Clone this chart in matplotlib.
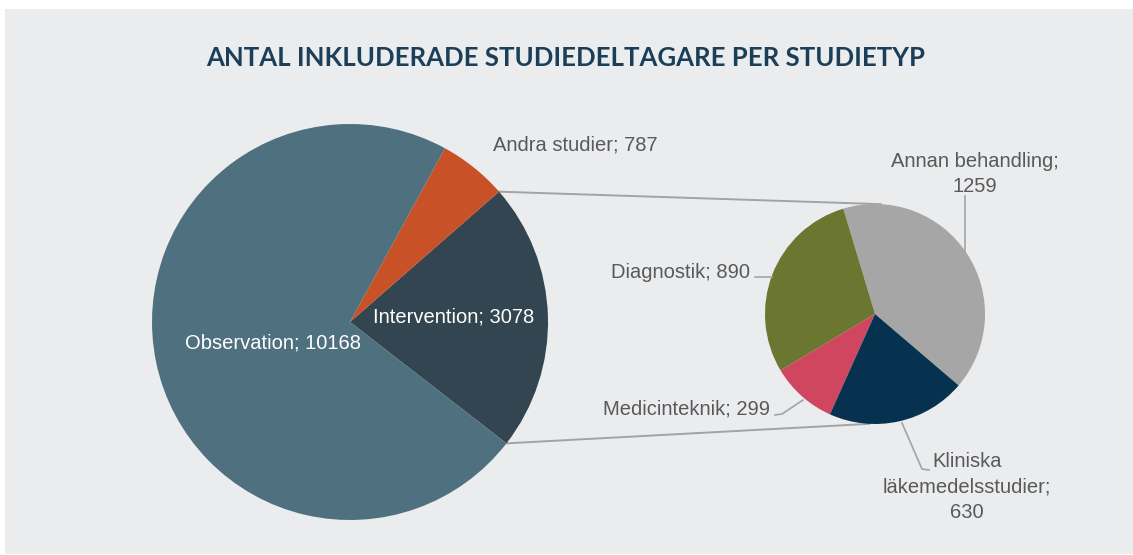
import numpy as np
import matplotlib.pyplot as plt
from matplotlib.patches import Rectangle

# main pie: studietyp
main_labels = ['Intervention', 'Andra studier', 'Observation']
main_values = [3078, 787, 10168]
main_colors = ['#334550', '#c85128', '#4f707e']

# breakdown of Intervention
sub_labels = ['Annan behandling', 'Diagnostik', 'Medicinteknik', 'Kliniska läkemedelsstudier']
sub_values = [1259, 890, 299, 630]
sub_colors = ['#a6a6a6', '#6b7731', '#d0465f', '#07324f']

title = 'ANTAL INKLUDERADE STUDIEDELTAGARE PER STUDIETYP'

W, H = 1133, 555
bg = '#ebecee'
label_col = '#595959'
line_col = '#a3a3a3'

fig = plt.figure(figsize=(W / 100, H / 100), dpi=100)
fig.patch.set_facecolor('white')
ax = fig.add_axes([0, 0, 1, 1])

def Y(y):
    # image row -> axis y (axis y goes up)
    return H - y

main_c = (350, Y(322))
main_r = 198
sub_c = (875, Y(314))
sub_r = 110

main_w, _ = ax.pie(main_values, colors=main_colors, center=main_c, radius=main_r,
                   startangle=-37.8, counterclock=True,
                   wedgeprops=dict(linewidth=0))
sub_w, _ = ax.pie(sub_values, colors=sub_colors, center=sub_c, radius=sub_r,
                  startangle=-40.5, counterclock=True,
                  wedgeprops=dict(linewidth=0))

ax.set_xlim(0, W)
ax.set_ylim(0, H)
ax.set_aspect('equal')
ax.axis('off')
ax.add_patch(Rectangle((5, 1), W, H - 10, facecolor=bg, edgecolor='none', zorder=-5))

# connector lines from the Intervention slice to the small pie
def on_circle(c, r, ang):
    a = np.deg2rad(ang)
    return c[0] + r * np.cos(a), c[1] + r * np.sin(a)

w = main_w[0]
p_top = on_circle(main_c, main_r, w.theta2)
p_bot = on_circle(main_c, main_r, w.theta1)
q_top = on_circle(sub_c, sub_r, 87)
q_bot = on_circle(sub_c, sub_r, -93)
ax.plot([p_top[0], q_top[0]], [p_top[1], q_top[1]], color=line_col, lw=1.4, zorder=0)
ax.plot([p_bot[0], q_bot[0]], [p_bot[1], q_bot[1]], color=line_col, lw=1.4, zorder=0)

fnt = dict(family='Liberation Sans', fontsize=14.5)

# main labels
ax.text(373, Y(317), f'{main_labels[0]}; {main_values[0]}', color='white',
        ha='left', va='center', **fnt)
ax.text(493, Y(145), f'{main_labels[1]}; {main_values[1]}', color=label_col,
        ha='left', va='center', **fnt)
ax.text(185, Y(343), f'{main_labels[2]}; {main_values[2]}', color='white',
        ha='left', va='center', **fnt)

# sub labels
ax.text(975, Y(174), f'{sub_labels[0]};\n{sub_values[0]}', color=label_col,
        ha='center', va='center', linespacing=1.45, **fnt)
ax.plot([965, 965], [Y(196), Y(252)], color=line_col, lw=1.2)

ax.text(750, Y(272), f'{sub_labels[1]}; {sub_values[1]}', color=label_col,
        ha='right', va='center', **fnt)
ax.plot([755, 772], [Y(277), Y(277)], color=line_col, lw=1.2)

ax.text(770, Y(409), f'{sub_labels[2]}; {sub_values[2]}', color=label_col,
        ha='right', va='center', **fnt)
ax.plot([775, 782, 803], [Y(415), Y(414), Y(400)], color=line_col, lw=1.2)

kl = sub_labels[3].split(' ')
ax.text(967, Y(487), f'{kl[0]}\n{kl[1]};\n{sub_values[3]}', color=label_col,
        ha='center', va='center', linespacing=1.45, **fnt)
ax.plot([902, 922, 929], [Y(423), Y(469), Y(470)], color=line_col, lw=1.2)

ax.text(566, Y(58), title, color='#1b3f58', family='Lato', fontweight='bold',
        fontsize=18.5, ha='center', va='center')

fig.savefig('out.png', dpi=100, facecolor=fig.get_facecolor())
